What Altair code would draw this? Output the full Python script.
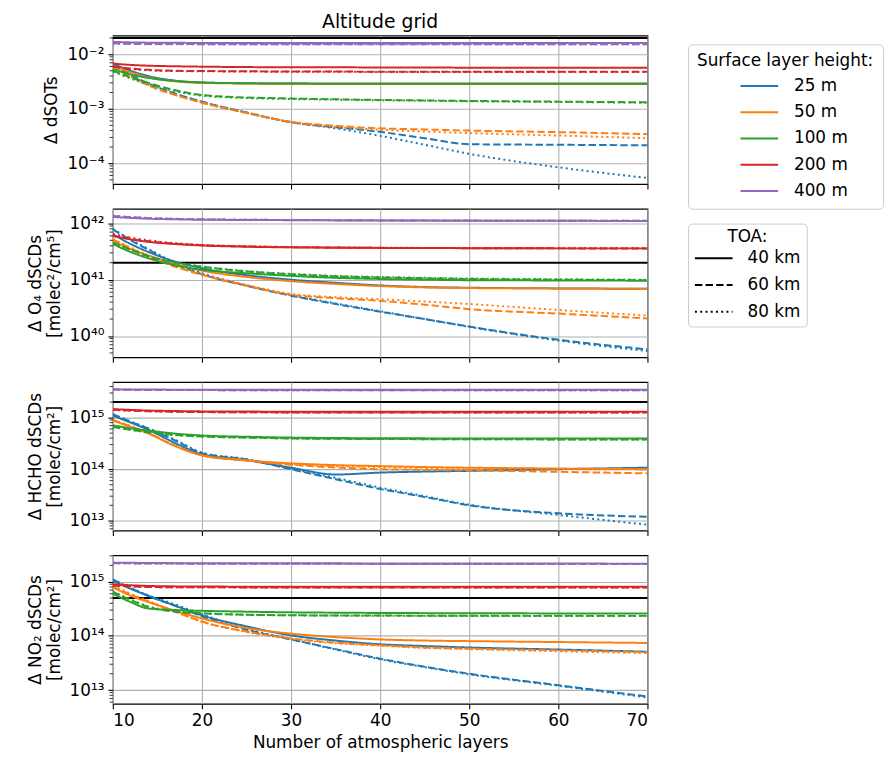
import math
import altair as alt
import pandas as pd

FONT = "DejaVu Sans"

LAYERS = [10, 12, 14, 17, 20, 25, 30, 35, 40, 45, 50, 60, 70]
HEIGHTS = ["25 m", "50 m", "100 m", "200 m", "400 m"]
TOAS = ["40 km", "60 km", "80 km"]
COLORS = ["#1f77b4", "#ff7f0e", "#2ca02c", "#d62728", "#9467bd"]

# ---- Delta dSOTs -------------------------------------------------------
SOT = {
    "25 m": {
        "40 km": [6.8e-3, 5.0e-3, 4.0e-3, 3.3e-3, 3.05e-3, 2.95e-3, 2.92e-3, 2.9e-3, 2.9e-3, 2.9e-3, 2.9e-3, 2.9e-3, 2.9e-3],
        "60 km": [6.5e-3, 4.2e-3, 2.9e-3, 1.9e-3, 1.35e-3, 8.6e-4, 5.7e-4, 4.6e-4, 3.8e-4, 2.9e-4, 2.25e-4, 2.2e-4, 2.15e-4],
        "80 km": [6.5e-3, 4.2e-3, 2.9e-3, 1.9e-3, 1.35e-3, 8.6e-4, 5.7e-4, 4.4e-4, 3.2e-4, 2.2e-4, 1.5e-4, 8.5e-5, 5.4e-5],
    },
    "50 m": {
        "40 km": [6.2e-3, 4.7e-3, 3.8e-3, 3.2e-3, 3.0e-3, 2.93e-3, 2.9e-3, 2.9e-3, 2.9e-3, 2.9e-3, 2.9e-3, 2.9e-3, 2.9e-3],
        "60 km": [6.0e-3, 3.9e-3, 2.7e-3, 1.8e-3, 1.3e-3, 8.4e-4, 5.8e-4, 4.9e-4, 4.4e-4, 4.2e-4, 4.0e-4, 3.75e-4, 3.45e-4],
        "80 km": [6.0e-3, 3.9e-3, 2.7e-3, 1.8e-3, 1.3e-3, 8.4e-4, 5.7e-4, 4.7e-4, 4.15e-4, 3.85e-4, 3.6e-4, 3.25e-4, 2.9e-4],
    },
    "100 m": {
        "40 km": [5.4e-3, 4.3e-3, 3.7e-3, 3.25e-3, 3.05e-3, 2.95e-3, 2.92e-3, 2.9e-3, 2.9e-3, 2.9e-3, 2.9e-3, 2.9e-3, 2.9e-3],
        "60 km": [5.0e-3, 3.8e-3, 3.0e-3, 2.2e-3, 1.8e-3, 1.62e-3, 1.55e-3, 1.5e-3, 1.46e-3, 1.43e-3, 1.4e-3, 1.36e-3, 1.32e-3],
        "80 km": [4.8e-3, 3.6e-3, 2.8e-3, 2.1e-3, 1.75e-3, 1.58e-3, 1.52e-3, 1.48e-3, 1.44e-3, 1.41e-3, 1.38e-3, 1.34e-3, 1.3e-3],
    },
    "200 m": {
        "40 km": [6.8e-3, 6.4e-3, 6.2e-3, 6.05e-3, 5.95e-3, 5.85e-3, 5.8e-3, 5.8e-3, 5.75e-3, 5.75e-3, 5.7e-3, 5.7e-3, 5.7e-3],
        "60 km": [6.0e-3, 5.5e-3, 5.2e-3, 5.0e-3, 4.95e-3, 4.9e-3, 4.85e-3, 4.85e-3, 4.8e-3, 4.8e-3, 4.8e-3, 4.8e-3, 4.8e-3],
        "80 km": [5.9e-3, 5.4e-3, 5.1e-3, 4.95e-3, 4.9e-3, 4.85e-3, 4.8e-3, 4.8e-3, 4.75e-3, 4.75e-3, 4.75e-3, 4.75e-3, 4.75e-3],
    },
    "400 m": {
        "40 km": [1.7e-2, 1.66e-2, 1.64e-2, 1.63e-2, 1.62e-2, 1.62e-2, 1.62e-2, 1.62e-2, 1.61e-2, 1.61e-2, 1.61e-2, 1.61e-2, 1.61e-2],
        "60 km": [1.6e-2, 1.56e-2, 1.55e-2, 1.55e-2, 1.54e-2, 1.54e-2, 1.54e-2, 1.54e-2, 1.54e-2, 1.54e-2, 1.54e-2, 1.54e-2, 1.54e-2],
        "80 km": [1.58e-2, 1.55e-2, 1.54e-2, 1.54e-2, 1.54e-2, 1.54e-2, 1.54e-2, 1.54e-2, 1.54e-2, 1.54e-2, 1.54e-2, 1.54e-2, 1.54e-2],
    },
}

# ---- Delta O4 dSCDs ----------------------------------------------------
O4 = {
    "25 m": {
        "40 km": [6.4e41, 4.3e41, 3.1e41, 2.1e41, 1.6e41, 1.2e41, 1.0e41, 8.8e40, 7.9e40, 7.4e40, 7.2e40, 7.0e40, 6.9e40],
        "60 km": [7.8e41, 5.0e41, 3.4e41, 1.9e41, 1.25e41, 7.8e40, 5.2e40, 3.7e40, 2.7e40, 2.0e40, 1.47e40, 8.6e39, 5.8e39],
        "80 km": [8.0e41, 5.2e41, 3.5e41, 2.0e41, 1.3e41, 8.0e40, 5.3e40, 3.8e40, 2.75e40, 2.0e40, 1.45e40, 8.3e39, 5.4e39],
    },
    "50 m": {
        "40 km": [4.9e41, 3.5e41, 2.7e41, 1.9e41, 1.45e41, 1.12e41, 9.4e40, 8.4e40, 7.7e40, 7.3e40, 7.1e40, 7.0e40, 6.9e40],
        "60 km": [5.2e41, 3.6e41, 2.6e41, 1.7e41, 1.22e41, 7.8e40, 5.4e40, 4.7e40, 4.2e40, 3.6e40, 3.0e40, 2.5e40, 2.05e40],
        "80 km": [5.3e41, 3.7e41, 2.7e41, 1.75e41, 1.25e41, 8.0e40, 5.6e40, 4.9e40, 4.5e40, 4.1e40, 3.7e40, 2.9e40, 2.3e40],
    },
    "100 m": {
        "40 km": [4.3e41, 3.1e41, 2.4e41, 1.8e41, 1.5e41, 1.3e41, 1.17e41, 1.08e41, 1.03e41, 1.0e41, 9.8e40, 9.7e40, 9.6e40],
        "60 km": [4.6e41, 3.4e41, 2.6e41, 2.0e41, 1.7e41, 1.4e41, 1.25e41, 1.15e41, 1.1e41, 1.06e41, 1.03e41, 1.0e41, 9.8e40],
        "80 km": [4.5e41, 3.4e41, 2.6e41, 2.05e41, 1.72e41, 1.42e41, 1.27e41, 1.17e41, 1.12e41, 1.08e41, 1.05e41, 1.02e41, 1.0e41],
    },
    "200 m": {
        "40 km": [6.0e41, 5.2e41, 4.7e41, 4.3e41, 4.05e41, 3.85e41, 3.75e41, 3.7e41, 3.67e41, 3.65e41, 3.63e41, 3.6e41, 3.6e41],
        "60 km": [6.0e41, 5.3e41, 4.8e41, 4.35e41, 4.1e41, 3.9e41, 3.78e41, 3.72e41, 3.68e41, 3.65e41, 3.63e41, 3.6e41, 3.58e41],
        "80 km": [6.5e41, 5.6e41, 5.0e41, 4.45e41, 4.15e41, 3.92e41, 3.8e41, 3.73e41, 3.7e41, 3.67e41, 3.64e41, 3.62e41, 3.6e41],
    },
    "400 m": {
        "40 km": [1.3e42, 1.25e42, 1.21e42, 1.18e42, 1.16e42, 1.15e42, 1.14e42, 1.13e42, 1.12e42, 1.12e42, 1.11e42, 1.11e42, 1.1e42],
        "60 km": [1.35e42, 1.29e42, 1.24e42, 1.2e42, 1.18e42, 1.16e42, 1.15e42, 1.14e42, 1.13e42, 1.12e42, 1.12e42, 1.11e42, 1.11e42],
        "80 km": [1.36e42, 1.3e42, 1.25e42, 1.21e42, 1.18e42, 1.16e42, 1.15e42, 1.14e42, 1.13e42, 1.12e42, 1.12e42, 1.11e42, 1.11e42],
    },
}

# ---- Delta HCHO dSCDs --------------------------------------------------
HCHO = {
    "25 m": {
        "40 km": [1.09e15, 8.0e14, 5.8e14, 3.2e14, 1.95e14, 1.5e14, 1.07e14, 7.9e13, 8.6e13, 9.0e13, 9.3e13, 1.0e14, 1.07e14],
        "60 km": [1.17e15, 8.3e14, 6.1e14, 3.6e14, 2.05e14, 1.55e14, 1.0e14, 6.4e13, 4.15e13, 2.9e13, 2.0e13, 1.4e13, 1.2e13],
        "80 km": [1.17e15, 8.4e14, 6.2e14, 3.7e14, 2.1e14, 1.57e14, 1.02e14, 6.8e13, 4.4e13, 3.0e13, 2.05e13, 1.3e13, 8.4e12],
    },
    "50 m": {
        "40 km": [8.8e14, 6.6e14, 4.9e14, 2.8e14, 1.85e14, 1.48e14, 1.3e14, 1.2e14, 1.15e14, 1.1e14, 1.07e14, 1.03e14, 1.0e14],
        "60 km": [9.0e14, 6.8e14, 5.0e14, 2.85e14, 1.86e14, 1.47e14, 1.22e14, 1.08e14, 1.0e14, 9.7e13, 9.5e13, 8.9e13, 8.3e13],
        "80 km": [9.0e14, 6.8e14, 5.0e14, 2.85e14, 1.88e14, 1.5e14, 1.25e14, 1.15e14, 1.1e14, 1.06e14, 1.04e14, 1.01e14, 9.9e13],
    },
    "100 m": {
        "40 km": [7.1e14, 6.2e14, 5.6e14, 4.9e14, 4.5e14, 4.25e14, 4.1e14, 4.02e14, 3.98e14, 3.96e14, 3.95e14, 3.95e14, 3.95e14],
        "60 km": [6.6e14, 5.8e14, 5.2e14, 4.6e14, 4.3e14, 4.1e14, 3.95e14, 3.88e14, 3.85e14, 3.82e14, 3.8e14, 3.78e14, 3.75e14],
        "80 km": [6.5e14, 5.8e14, 5.2e14, 4.6e14, 4.3e14, 4.1e14, 3.95e14, 3.88e14, 3.85e14, 3.82e14, 3.8e14, 3.78e14, 3.75e14],
    },
    "200 m": {
        "40 km": [1.46e15, 1.41e15, 1.37e15, 1.34e15, 1.32e15, 1.31e15, 1.3e15, 1.3e15, 1.3e15, 1.3e15, 1.3e15, 1.3e15, 1.3e15],
        "60 km": [1.42e15, 1.37e15, 1.33e15, 1.3e15, 1.28e15, 1.27e15, 1.26e15, 1.26e15, 1.25e15, 1.25e15, 1.25e15, 1.25e15, 1.25e15],
        "80 km": [1.41e15, 1.36e15, 1.33e15, 1.3e15, 1.28e15, 1.27e15, 1.26e15, 1.26e15, 1.25e15, 1.25e15, 1.25e15, 1.25e15, 1.25e15],
    },
    "400 m": {
        "40 km": [3.55e15, 3.5e15, 3.5e15, 3.48e15, 3.48e15, 3.47e15, 3.47e15, 3.46e15, 3.46e15, 3.46e15, 3.45e15, 3.45e15, 3.45e15],
        "60 km": [3.5e15, 3.45e15, 3.43e15, 3.42e15, 3.41e15, 3.4e15, 3.4e15, 3.39e15, 3.39e15, 3.39e15, 3.38e15, 3.38e15, 3.38e15],
        "80 km": [3.5e15, 3.45e15, 3.43e15, 3.42e15, 3.41e15, 3.4e15, 3.4e15, 3.39e15, 3.39e15, 3.39e15, 3.38e15, 3.38e15, 3.38e15],
    },
}

# ---- Delta NO2 dSCDs ---------------------------------------------------
NO2 = {
    "25 m": {
        "40 km": [1.04e15, 7.4e14, 5.5e14, 3.6e14, 2.4e14, 1.5e14, 1.02e14, 8.2e13, 7.0e13, 6.5e13, 6.1e13, 5.6e13, 5.1e13],
        "60 km": [1.1e15, 7.6e14, 5.4e14, 3.6e14, 2.3e14, 1.3e14, 8.6e13, 5.7e13, 3.8e13, 2.7e13, 2.0e13, 1.23e13, 7.6e12],
        "80 km": [1.1e15, 7.7e14, 5.6e14, 3.8e14, 2.5e14, 1.35e14, 8.7e13, 5.6e13, 3.7e13, 2.65e13, 1.95e13, 1.2e13, 7.3e12],
    },
    "50 m": {
        "40 km": [7.9e14, 5.5e14, 4.2e14, 2.9e14, 2.1e14, 1.4e14, 1.1e14, 9.5e13, 8.6e13, 8.2e13, 8.0e13, 7.7e13, 7.4e13],
        "60 km": [8.2e14, 5.8e14, 4.3e14, 2.8e14, 1.84e14, 1.2e14, 9.0e13, 7.5e13, 6.7e13, 6.1e13, 5.8e13, 5.4e13, 5.0e13],
        "80 km": [8.4e14, 6.0e14, 4.4e14, 2.8e14, 1.82e14, 1.18e14, 8.8e13, 7.3e13, 6.6e13, 6.0e13, 5.7e13, 5.2e13, 4.8e13],
    },
    "100 m": {
        "40 km": [6.0e14, 4.2e14, 3.2e14, 3.0e14, 2.9e14, 2.8e14, 2.72e14, 2.68e14, 2.65e14, 2.63e14, 2.62e14, 2.6e14, 2.6e14],
        "60 km": [6.5e14, 4.6e14, 3.4e14, 2.8e14, 2.6e14, 2.45e14, 2.4e14, 2.38e14, 2.37e14, 2.36e14, 2.35e14, 2.34e14, 2.34e14],
        "80 km": [6.6e14, 4.7e14, 3.5e14, 2.85e14, 2.62e14, 2.46e14, 2.4e14, 2.37e14, 2.35e14, 2.34e14, 2.33e14, 2.32e14, 2.32e14],
    },
    "200 m": {
        "40 km": [9.0e14, 8.6e14, 8.35e14, 8.2e14, 8.15e14, 8.1e14, 8.1e14, 8.1e14, 8.1e14, 8.1e14, 8.1e14, 8.1e14, 8.1e14],
        "60 km": [8.5e14, 8.2e14, 8.0e14, 7.9e14, 7.9e14, 7.85e14, 7.85e14, 7.8e14, 7.8e14, 7.8e14, 7.8e14, 7.8e14, 7.8e14],
        "80 km": [8.5e14, 8.2e14, 8.0e14, 7.9e14, 7.9e14, 7.85e14, 7.85e14, 7.8e14, 7.8e14, 7.8e14, 7.8e14, 7.8e14, 7.8e14],
    },
    "400 m": {
        "40 km": [2.25e15, 2.23e15, 2.22e15, 2.2e15, 2.2e15, 2.19e15, 2.18e15, 2.18e15, 2.17e15, 2.17e15, 2.16e15, 2.16e15, 2.15e15],
        "60 km": [2.2e15, 2.18e15, 2.17e15, 2.16e15, 2.15e15, 2.15e15, 2.14e15, 2.14e15, 2.13e15, 2.13e15, 2.13e15, 2.12e15, 2.12e15],
        "80 km": [2.2e15, 2.18e15, 2.17e15, 2.16e15, 2.15e15, 2.15e15, 2.14e15, 2.14e15, 2.13e15, 2.13e15, 2.13e15, 2.12e15, 2.12e15],
    },
}

THRESHOLDS = [2e-2, 2e41, 2e15, 5e14]
DOMAINS = [[4.2e-5, 2.22e-2], [4.2e39, 1.82e42], [6.5e12, 4.9e15], [5.6e12, 3.08e15]]
YTITLES = [
    "Δ dSOTs",
    ["Δ O₄ dSCDs", "[molec²/cm⁵]"],
    ["Δ HCHO dSCDs", "[molec/cm²]"],
    ["Δ NO₂ dSCDs", "[molec/cm²]"],
]
SERIES = [SOT, O4, HCHO, NO2]

SUP = str.maketrans("0123456789-", "⁰¹²³⁴⁵⁶⁷⁸⁹⁻")


def build_df(d):
    rows = []
    for h in HEIGHTS:
        for t in TOAS:
            for x, v in zip(LAYERS, d[h][t]):
                rows.append({"layers": x, "value": v, "height": h, "toa": t,
                             "key": h + "|" + t})
    return pd.DataFrame(rows)


def label_expr(exps):
    e = "round(log(datum.value)/LN10)"
    expr = "''"
    for k in exps:
        expr = f"{e} == {k} ? '10{str(k).translate(SUP)}' : ({expr})"
    return expr


color_enc_scale = alt.Scale(domain=HEIGHTS, range=COLORS)
dash_scale = alt.Scale(domain=TOAS, range=[[1, 0], [7.5, 3.2], [2.0, 3.3]])

color_legend = alt.Legend(
    title="Surface layer height:", orient="none", legendX=581, legendY=9,
    symbolType="stroke", symbolSize=1444, symbolStrokeWidth=2,
    symbolOffset=18, labelOffset=15, titleAnchor="middle", padding=9,
    strokeColor="#cccccc", cornerRadius=4, fillColor="white",
    clipHeight=18, rowPadding=8.5,
    labelFontSize=17, titleFontSize=17, titleFontWeight="normal",
    labelFont=FONT, titleFont=FONT, titlePadding=7, labelColor="black",
    titleColor="black",
)
dash_legend = alt.Legend(
    title="TOA:", orient="none", legendX=581, legendY=190,
    symbolType="stroke", symbolSize=1444, symbolStrokeWidth=2,
    symbolStrokeColor="black", labelOffset=14, titleAnchor="middle", padding=6,
    strokeColor="#cccccc", cornerRadius=4, fillColor="white",
    clipHeight=18, rowPadding=9,
    labelFontSize=17, titleFontSize=17, titleFontWeight="normal",
    labelFont=FONT, titleFont=FONT, titlePadding=3, labelColor="black",
    titleColor="black",
)


def make_panel(i):
    df = build_df(SERIES[i])
    lo, hi = DOMAINS[i]
    k0, k1 = math.ceil(math.log10(lo)), math.floor(math.log10(hi))
    majors = [10.0 ** k for k in range(k0, k1 + 1)]
    exps = list(range(k0, k1 + 1))
    minors = []
    for k in range(k0 - 1, k1 + 1):
        for m in range(2, 10):
            v = m * 10.0 ** k
            if lo <= v <= hi:
                minors.append(v)
    bottom = i == 3
    xaxis = alt.Axis(values=[10, 20, 30, 40, 50, 60, 70], labels=bottom,
                     title="Number of atmospheric layers" if bottom else None,
                     grid=True)
    yscale = alt.Scale(type="log", domain=[lo, hi], nice=False)
    yaxis = alt.Axis(values=majors, labelExpr=label_expr(exps), title=YTITLES[i],
                     grid=True)
    xscale = alt.Scale(domain=[10, 70], nice=False, zero=False)

    lines = alt.Chart(df).mark_line(strokeWidth=2, clip=True, interpolate="monotone").encode(
        x=alt.X("layers:Q", scale=xscale, axis=xaxis),
        y=alt.Y("value:Q", scale=yscale, axis=yaxis),
        color=alt.Color("height:N", scale=color_enc_scale, legend=color_legend, sort=HEIGHTS),
        strokeDash=alt.StrokeDash("toa:N", scale=dash_scale, legend=dash_legend, sort=TOAS),
        detail="key:N",
    )
    thr = alt.Chart(pd.DataFrame({"value": [THRESHOLDS[i]]})).mark_rule(
        color="black", strokeWidth=2).encode(y=alt.Y("value:Q", scale=yscale, axis=yaxis))
    minor = alt.Chart(pd.DataFrame({"value": minors})).mark_rule(
        color="black", strokeWidth=0.8).encode(
        y=alt.Y("value:Q", scale=yscale, axis=yaxis),
        x=alt.value(0), x2=alt.value(-3.3))
    layer = alt.layer(thr, lines, minor).properties(width=540, height=150)
    if i == 0:
        layer = layer.properties(title=alt.TitleParams(
            "Altitude grid", fontSize=19, font=FONT, fontWeight="normal",
            anchor="middle", offset=4, color="black"))
    return layer


chart = alt.vconcat(*[make_panel(i) for i in range(4)], spacing=17).resolve_scale(
    y="independent", color="shared", strokeDash="shared"
).configure(
    background="white", padding={"left": 26, "top": 8, "right": 5, "bottom": 5}
).configure_view(
    stroke="black", strokeWidth=1.1
).configure_axis(
    labelFont=FONT, titleFont=FONT, labelFontSize=17, titleFontSize=17,
    titleFontWeight="normal", labelColor="black", titleColor="black",
    gridColor="#b0b0b0", gridWidth=1.1, tickColor="black", tickSize=5,
    tickWidth=1.1, domain=False, labelPadding=4, titlePadding=6,
)

chart.save("out.html", embed_options={"renderer": "svg", "actions": False})
